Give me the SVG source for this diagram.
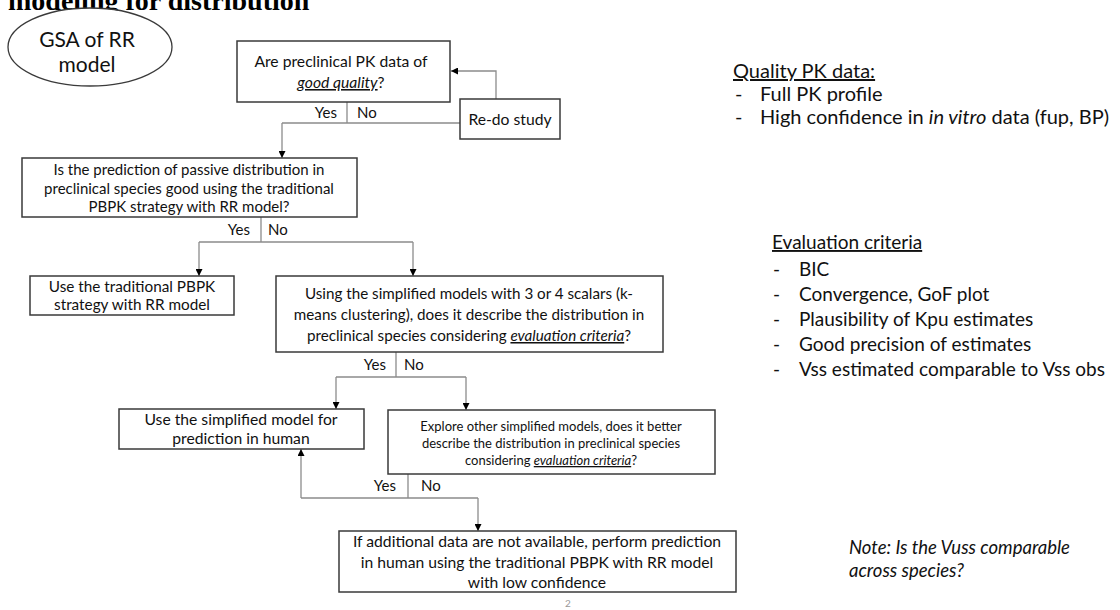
<svg xmlns="http://www.w3.org/2000/svg" width="1120" height="610" viewBox="0 0 1120 610">
<defs>
<marker id="ah" viewBox="0 0 10 10" refX="10" refY="5" markerWidth="7" markerHeight="7" markerUnits="userSpaceOnUse" orient="auto">
<path d="M0,0 L10,5 L0,10 z" fill="#000"/>
</marker>
<style>
.box{fill:#fff;stroke:#3a3a3a;stroke-width:1.5}
.t{font-family:Lato,"Liberation Sans",sans-serif;font-size:15px;fill:#111;text-anchor:middle}
.m{font-size:15.7px}
.s{font-size:13px}
.lbl{font-family:Lato,"Liberation Sans",sans-serif;font-size:15px;fill:#111}
.c{fill:none;stroke:#8c8c8c;stroke-width:1.3}
.a{marker-end:url(#ah)}
.r{font-family:Lato,"Liberation Sans",sans-serif;font-size:20px;fill:#111}
.e{font-size:19px}
.u{text-decoration:underline}
.i{font-style:italic}
</style>
</defs>
<rect width="1120" height="610" fill="#fff"/>
<text x="8" y="10" font-family="'Liberation Serif',serif" font-weight="bold" font-size="28" fill="#000">modeling for distribution</text>

<g id="gsa">
<ellipse cx="90" cy="47" rx="82" ry="39" fill="#fff" stroke="#3a3a3a" stroke-width="1.3"/>
<text class="t" x="87" y="47" style="font-size:21px">GSA of RR</text>
<text class="t" x="87" y="72" style="font-size:21px">model</text>
</g>

<g id="connectors">
<path class="c a" d="M496 99 V71 H451"/>
<path class="c" d="M347 102 V123 M282 123 H460"/>
<path class="c a" d="M282 123 V158"/>
<path class="c" d="M261 217 V242 M199 242 H413"/>
<path class="c a" d="M199 242 V276"/>
<path class="c a" d="M413 242 V276"/>
<path class="c" d="M396 352 V377 M336 377 H466"/>
<path class="c a" d="M336 377 V409"/>
<path class="c a" d="M466 377 V410"/>
<path class="c" d="M408 474 V498 M301 498 H478"/>
<path class="c a" d="M301 498 V449"/>
<path class="c a" d="M478 498 V531"/>
<text class="lbl" x="337" y="118" text-anchor="end">Yes</text>
<text class="lbl" x="357" y="118">No</text>
<text class="lbl" x="250" y="235" text-anchor="end">Yes</text>
<text class="lbl" x="268" y="235">No</text>
<text class="lbl" x="386" y="370" text-anchor="end">Yes</text>
<text class="lbl" x="404" y="370">No</text>
<text class="lbl" x="396" y="491" text-anchor="end">Yes</text>
<text class="lbl" x="421" y="491">No</text>
</g>

<g id="q1">
<rect class="box" x="237" y="41" width="213" height="61"/>
<text class="t m" x="341" y="67">Are preclinical PK data of</text>
<text class="t m" x="341" y="88"><tspan class="i u">good quality</tspan>?</text>
</g>

<g id="redo">
<rect class="box" x="460" y="99" width="100" height="40"/>
<text class="t m" x="510" y="125">Re-do study</text>
</g>

<g id="q2">
<rect class="box" x="22" y="158" width="335" height="59"/>
<text class="t" x="189" y="175">Is the prediction of passive distribution in</text>
<text class="t" x="189" y="194">preclinical species good using the traditional</text>
<text class="t" x="189" y="212">PBPK strategy with RR model?</text>
</g>

<g id="use-trad">
<rect class="box" x="30" y="276" width="204" height="39"/>
<text class="t" x="132" y="292" style="font-size:15.3px">Use the traditional PBPK</text>
<text class="t" x="132" y="310" style="font-size:15.3px">strategy with RR model</text>
</g>

<g id="q3">
<rect class="box" x="276" y="276" width="387" height="76"/>
<text class="t" x="469" y="299" style="font-size:15.2px">Using the simplified models with 3 or 4 scalars (k-</text>
<text class="t" x="469" y="320" style="font-size:15.2px">means clustering), does it describe the distribution in</text>
<text class="t" x="469" y="341" style="font-size:15.2px">preclinical species considering <tspan class="i u">evaluation criteria</tspan>?</text>
</g>

<g id="use-simpl">
<rect class="box" x="119" y="409" width="245" height="40"/>
<text class="t m" x="241" y="425">Use the simplified model for</text>
<text class="t m" x="241" y="444">prediction in human</text>
</g>

<g id="q4">
<rect class="box" x="388" y="410" width="327" height="64"/>
<text class="t s" x="551" y="431">Explore other simplified models, does it better</text>
<text class="t s" x="551" y="448">describe the distribution in preclinical species</text>
<text class="t s" x="551" y="465">considering <tspan class="i u">evaluation criteria</tspan>?</text>
</g>

<g id="fallback">
<rect class="box" x="339" y="531" width="397" height="61"/>
<text class="t m" x="537" y="547">If additional data are not available, perform prediction</text>
<text class="t m" x="537" y="568">in human using the traditional PBPK with RR model</text>
<text class="t m" x="537" y="588">with low confidence</text>
</g>

<g id="quality-notes">
<text class="r u" x="733" y="78">Quality PK data:</text>
<text class="r" x="735" y="101">-</text>
<text class="r" x="760" y="101">Full PK profile</text>
<text class="r" x="735" y="124">-</text>
<text class="r" x="760" y="124">High confidence in <tspan class="i">in vitro</tspan> data (fup, BP)</text>
</g>

<g id="eval-notes">
<text class="r e u" x="772" y="249">Evaluation criteria</text>
<text class="r e" x="773" y="276">-</text><text class="r e" x="799" y="276">BIC</text>
<text class="r e" x="773" y="301">-</text><text class="r e" x="799" y="301">Convergence, GoF plot</text>
<text class="r e" x="773" y="326">-</text><text class="r e" x="799" y="326">Plausibility of Kpu estimates</text>
<text class="r e" x="773" y="351">-</text><text class="r e" x="799" y="351">Good precision of estimates</text>
<text class="r e" x="773" y="376">-</text><text class="r e" x="799" y="376">Vss estimated comparable to Vss obs</text>
</g>

<g id="note">
<text class="r i" x="849" y="554" style="font-size:18.5px">Note: Is the Vuss comparable</text>
<text class="r i" x="849" y="577" style="font-size:18.5px">across species?</text>
</g>

<text x="568" y="607" font-family="Lato,'Liberation Sans',sans-serif" font-size="10" fill="#999" text-anchor="middle">2</text>
</svg>
